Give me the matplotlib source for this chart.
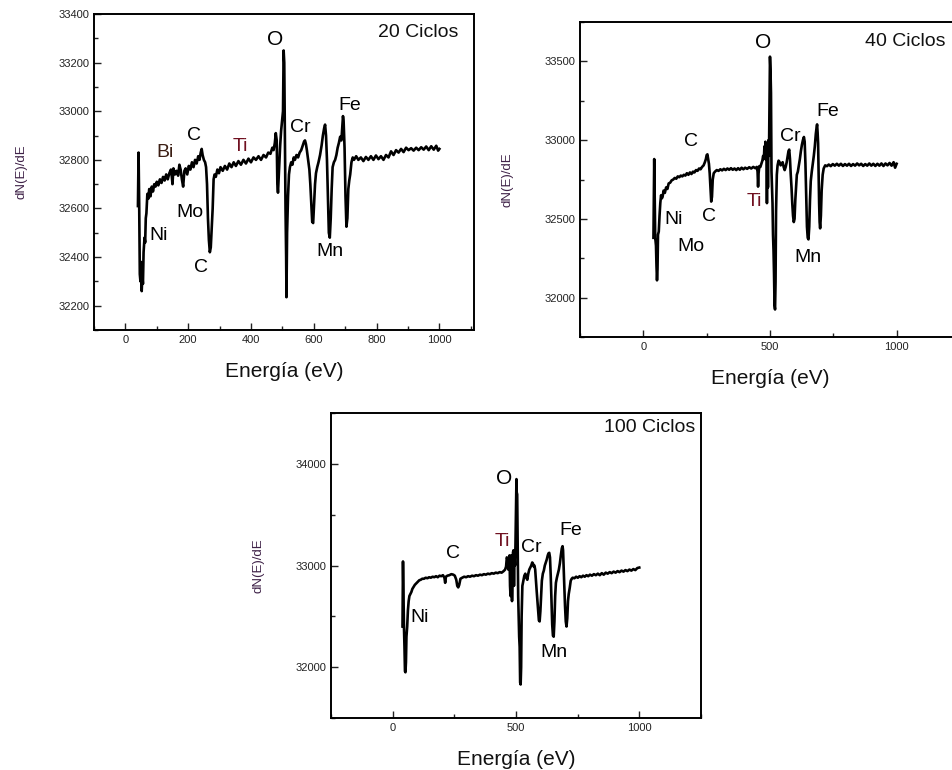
import numpy as np
import matplotlib
matplotlib.use('Agg')
import matplotlib.pyplot as plt
from matplotlib.ticker import MultipleLocator

plt.rcParams['font.family'] = ['Liberation Sans', 'DejaVu Sans']

# ---- espectro 20 ciclos (energia eV, dN(E)/dE) ----
e20 = [40, 42, 44, 46, 48, 50, 52, 54, 56, 58, 61, 63, 65, 67, 70, 73, 76, 80, 84, 88,
       92, 96, 100, 105, 110, 115, 120, 125, 130, 135, 140, 145, 148, 150, 153, 158, 163, 168, 172, 176,
       180, 184, 188, 192, 197, 202, 207, 212, 217, 222, 227, 232, 236, 240, 243, 246, 250, 254, 257, 260,
       263, 266, 269, 272, 275, 278, 281, 284, 288, 293, 298, 303, 310, 317, 324, 331, 338, 345, 352, 360,
       368, 376, 384, 392, 400, 408, 416, 424, 432, 440, 448, 455, 462, 468, 472, 476, 479, 482, 484, 486,
       488, 490, 493, 496, 499, 502, 504, 506, 508, 510, 512, 513, 515, 518, 521, 524, 528, 532, 536, 540,
       545, 550, 555, 560, 565, 569, 572, 575, 578, 582, 586, 589, 592, 595, 598, 601, 604, 607, 611, 615,
       620, 625, 629, 633, 636, 639, 642, 645, 648, 651, 654, 657, 660, 664, 668, 672, 676, 680, 684, 688,
       691, 693, 695, 698, 701, 704, 707, 710, 713, 716, 720, 724, 728, 735, 742, 750, 758, 766, 774, 782,
       790, 798, 806, 814, 822, 830, 838, 846, 854, 862, 870, 878, 886, 894, 902, 910, 918, 926, 934, 942,
       950, 958, 966, 974, 982, 990, 996, 1000]
v20 = [32610, 32830, 32620, 32330, 32300, 32380, 32260, 32320, 32290, 32420, 32480, 32460, 32560, 32580, 32660, 32640, 32680, 32650, 32690, 32670,
       32700, 32690, 32710, 32695, 32720, 32705, 32730, 32715, 32740, 32720, 32745, 32760, 32730, 32700, 32765, 32740, 32755, 32735, 32780, 32760,
       32720, 32690, 32755, 32765, 32740, 32775, 32760, 32790, 32770, 32800, 32785, 32815, 32800, 32830, 32845, 32820, 32800, 32790, 32770, 32700,
       32560, 32470, 32420, 32440, 32520, 32600, 32720, 32740, 32730, 32760, 32745, 32770, 32755, 32775, 32760, 32785, 32770, 32790, 32775, 32795,
       32780, 32800, 32785, 32805, 32790, 32810, 32800, 32815, 32800, 32820, 32810, 32830, 32825, 32850, 32840, 32870, 32910, 32880, 32700, 32665,
       32720, 32780, 32860, 32920, 32960, 33000, 33250, 33200, 32900, 32600, 32400, 32235, 32500, 32650, 32740, 32770, 32790, 32780, 32810, 32800,
       32820, 32810, 32830, 32840, 32860, 32875, 32880, 32865, 32840, 32800, 32760, 32700, 32620, 32545, 32540, 32620, 32700, 32745, 32770, 32790,
       32820, 32860, 32900, 32930, 32945, 32900, 32800, 32650, 32500, 32480, 32560, 32680, 32770, 32790, 32800, 32820, 32850, 32870, 32895, 32880,
       32940, 32980, 32960, 32850, 32650, 32525, 32560, 32680, 32715, 32740, 32790, 32810, 32800, 32815, 32800, 32810, 32795, 32812, 32800, 32815,
       32800, 32818, 32803, 32815, 32800, 32820, 32810, 32835, 32820, 32840, 32830, 32845, 32832, 32850, 32840, 32848, 32838, 32850, 32840, 32852,
       32842, 32855, 32840, 32856, 32842, 32858, 32838, 32845]

# ---- espectro 40 ciclos ----
e40 = [40, 43, 45, 47, 50, 52, 54, 56, 58, 61, 64, 67, 70, 73, 76, 80, 85, 90, 95, 100,
       106, 112, 118, 124, 130, 136, 142, 148, 154, 160, 166, 172, 178, 184, 190, 196, 202, 208, 214, 220,
       226, 232, 238, 243, 247, 250, 253, 256, 259, 262, 265, 268, 271, 274, 278, 283, 290, 297, 304, 311,
       318, 325, 332, 339, 346, 353, 360, 367, 374, 381, 388, 395, 402, 410, 418, 426, 434, 442, 448, 451,
       453, 455, 458, 462, 466, 470, 473, 476, 478, 480, 482, 484, 486, 488, 490, 492, 494, 496, 498, 500,
       502, 504, 506, 508, 510, 512, 514, 516, 518, 520, 522, 524, 527, 530, 534, 538, 542, 546, 550, 554,
       558, 562, 566, 570, 573, 576, 579, 582, 585, 588, 591, 594, 597, 600, 603, 606, 610, 614, 618, 622,
       626, 630, 634, 637, 640, 643, 646, 649, 652, 655, 658, 661, 665, 669, 673, 677, 681, 684, 686, 688,
       690, 692, 694, 696, 698, 701, 704, 708, 712, 718, 725, 732, 740, 748, 756, 764, 772, 780, 788, 796,
       804, 812, 820, 828, 836, 844, 852, 860, 868, 876, 884, 892, 900, 908, 916, 924, 932, 940, 948, 956,
       964, 972, 980, 988, 994, 1000]
v40 = [32380, 32880, 32600, 32380, 32330, 32200, 32110, 32180, 32400, 32420, 32520, 32600, 32650, 32630, 32640, 32680, 32665, 32700, 32690, 32725,
       32730, 32745, 32750, 32760, 32755, 32770, 32765, 32775, 32770, 32780, 32775, 32790, 32780, 32795, 32785, 32800, 32795, 32810, 32805, 32820,
       32815, 32830, 32840, 32860, 32880, 32905, 32910, 32880, 32850, 32790, 32700, 32610, 32640, 32750, 32790, 32800, 32810, 32805, 32815, 32808,
       32818, 32810, 32820, 32812, 32822, 32812, 32820, 32810, 32822, 32812, 32825, 32815, 32825, 32818, 32828, 32820, 32830, 32822, 32830, 32800,
       32705, 32790, 32835, 32830, 32850, 32870, 32900, 32880, 32960, 32900, 32990, 32880, 32960, 32600, 32980, 32700, 33000, 32900, 33200, 33530,
       33450, 33300, 32800, 32700, 32600, 32400, 32300, 32150, 31950, 31925, 32100, 32550, 32780, 32840, 32870, 32860, 32840, 32850, 32860, 32830,
       32810, 32830, 32860, 32900, 32930, 32940, 32880, 32780, 32700, 32600, 32520, 32480, 32500, 32620, 32700, 32780, 32800, 32840, 32880, 32930,
       32970, 33000, 33020, 32990, 32850, 32650, 32450, 32380, 32370, 32450, 32620, 32740, 32800, 32850, 32900, 32960, 33040, 33080, 33100, 33050,
       32980, 32800, 32600, 32480, 32440, 32520, 32680, 32780, 32820, 32840, 32835, 32845, 32835, 32848, 32838, 32850, 32838, 32850, 32836, 32848,
       32838, 32850, 32836, 32848, 32838, 32852, 32840, 32850, 32836, 32848, 32838, 32852, 32838, 32850, 32836, 32850, 32838, 32852, 32836, 32852,
       32840, 32855, 32838, 32860, 32825, 32850]

# ---- espectro 100 ciclos ----
e100 = [40, 42, 44, 46, 48, 50, 52, 54, 56, 59, 62, 65, 68, 72, 76, 80, 85, 90, 96, 102,
        108, 114, 120, 127, 134, 141, 148, 155, 162, 169, 176, 183, 190, 197, 204, 210, 213, 216, 222, 230,
        238, 246, 252, 258, 262, 266, 270, 275, 282, 290, 298, 306, 314, 322, 330, 338, 346, 354, 362, 370,
        378, 386, 394, 402, 410, 418, 426, 434, 442, 450, 456, 460, 463, 466, 469, 472, 474, 476, 478, 480,
        482, 484, 486, 488, 490, 492, 494, 496, 498, 500, 502, 503, 505, 507, 509, 511, 513, 515, 517, 519,
        521, 523, 526, 530, 534, 538, 542, 546, 550, 554, 558, 562, 566, 569, 572, 575, 578, 581, 584, 587,
        590, 593, 596, 599, 602, 605, 609, 613, 617, 621, 625, 629, 632, 635, 638, 641, 644, 647, 650, 653,
        656, 659, 662, 666, 670, 674, 678, 682, 686, 689, 691, 693, 696, 699, 702, 705, 708, 711, 714, 718,
        722, 726, 730, 737, 744, 751, 758, 765, 772, 779, 786, 793, 800, 808, 816, 824, 832, 840, 848, 856,
        864, 872, 880, 888, 896, 904, 912, 920, 928, 936, 944, 952, 960, 968, 976, 984, 992, 1000]
v100 = [32400, 33040, 32700, 32390, 32200, 31960, 31950, 32050, 32300, 32400, 32560, 32650, 32700, 32720, 32740, 32770, 32790, 32810, 32825, 32840,
        32855, 32860, 32870, 32870, 32880, 32875, 32885, 32880, 32890, 32885, 32895, 32885, 32900, 32895, 32905, 32880, 32830, 32890, 32900, 32905,
        32915, 32910, 32900, 32860, 32800, 32785, 32810, 32870, 32880, 32890, 32885, 32895, 32890, 32900, 32895, 32905, 32900, 32910, 32905, 32915,
        32910, 32920, 32915, 32925, 32920, 32930, 32925, 32935, 32930, 32945, 32960, 32990, 33080, 33060, 32960, 33000, 33100, 32800, 32700, 33050,
        33100, 32650, 32900, 33130, 33150, 32800, 33100, 33000, 33200, 33500, 33850, 33720, 33700, 33200, 32700, 32500, 32300, 32200, 31850, 31830,
        32000, 32500, 32800, 32850, 32900, 32920, 32880, 32860, 32920, 32960, 32980, 33000, 33030, 33020, 32990, 33000, 32960, 32850, 32750, 32650,
        32550, 32460, 32450, 32550, 32700, 32850, 32920, 32950, 33000, 33030, 33060, 33100, 33120, 33125, 33080, 32900, 32650, 32420, 32310, 32300,
        32450, 32700, 32830, 32880, 32920, 32960, 33020, 33100, 33170, 33190, 33150, 33000, 32800, 32600, 32450, 32400, 32480, 32650, 32720, 32780,
        32850, 32870, 32880, 32875, 32890, 32880, 32895, 32885, 32900, 32890, 32905, 32895, 32910, 32900, 32915, 32905, 32920, 32905, 32925, 32910,
        32930, 32920, 32935, 32925, 32940, 32930, 32945, 32935, 32950, 32940, 32955, 32945, 32960, 32950, 32965, 32955, 32975, 32980]

# etiquetas de elementos: (texto, E, valor, color)
lab20 = [('O', 476, 33296, 'k'), ('Fe', 714, 33025, 'k'), ('Cr', 556, 32933, 'k'),
         ('Ti', 367, 32853, '#701020'), ('C', 219, 32901, 'k'), ('Bi', 127, 32830, '#3b1e14'),
         ('Mo', 206, 32582, 'k'), ('Ni', 106, 32489, 'k'), ('C', 241, 32358, 'k'), ('Mn', 651, 32424, 'k')]
lab40 = [('O', 474, 33623, 'k'), ('Fe', 730, 33180, 'k'), ('Cr', 579, 33025, 'k'),
         ('C', 188, 32993, 'k'), ('Ni', 119, 32496, 'k'), ('Mo', 188, 32326, 'k'),
         ('C', 261, 32517, 'k'), ('Ti', 437, 32612, '#701020'), ('Mn', 651, 32252, 'k')]
lab100 = [('O', 452, 33859, 'k'), ('Fe', 721, 33340, 'k'), ('Cr', 564, 33182, 'k'),
          ('Ti', 446, 33235, '#701020'), ('C', 243, 33116, 'k'), ('Ni', 111, 32493, 'k'),
          ('Mn', 656, 32141, 'k')]


def panel(rect, e, v, labels, title, tpos, xlim, ylim, xmaj, ymaj):
    ax = fig.add_axes(rect)
    ax.plot(e, v, color='k', lw=1.9)
    ax.set_xlim(xlim)
    ax.set_ylim(ylim)
    ax.xaxis.set_major_locator(MultipleLocator(xmaj))
    ax.xaxis.set_minor_locator(MultipleLocator(xmaj / 2))
    ax.yaxis.set_major_locator(MultipleLocator(ymaj))
    ax.yaxis.set_minor_locator(MultipleLocator(ymaj / 2))
    ax.tick_params(which='both', direction='in', top=False, right=False, labelsize=8, colors='#222222')
    ax.tick_params(which='major', length=5, width=1)
    ax.tick_params(which='minor', length=3, width=1)
    for s in ax.spines.values():
        s.set_linewidth(1.4)
    for txt, x, y, c in labels:
        ax.text(x, y, txt, color=c, fontsize=15 if txt == 'O' else 14, ha='center', va='center')
    ax.text(tpos[0], tpos[1], title, transform=ax.transAxes, fontsize=14,
            ha=tpos[2], va='center', color='#111111')
    ax.set_xlabel('Energía (eV)', fontsize=15, color='#111111', labelpad=12)
    ax.set_ylabel('dN(E)/dE', fontsize=9.5, color='#3f2248', labelpad=22)
    return ax


fig = plt.figure(figsize=(9.53, 7.7), dpi=100)

panel([0.0986, 0.5714, 0.3987, 0.4104], e20, v20, lab20, '20 Ciclos', (0.958, 0.94, 'right'),
      (-100, 1110), (32100, 33400), 200, 200)
panel([0.6086, 0.5623, 0.3987, 0.4091], e40, v40, lab40, '40 Ciclos', (0.75, 0.937, 'left'),
      (-250, 1250), (31750, 33750), 500, 500)
panel([0.3473, 0.0675, 0.3882, 0.3961], e100, v100, lab100, '100 Ciclos', (0.984, 0.954, 'right'),
      (-250, 1250), (31500, 34500), 500, 1000)

plt.savefig('out.png', dpi=100)
